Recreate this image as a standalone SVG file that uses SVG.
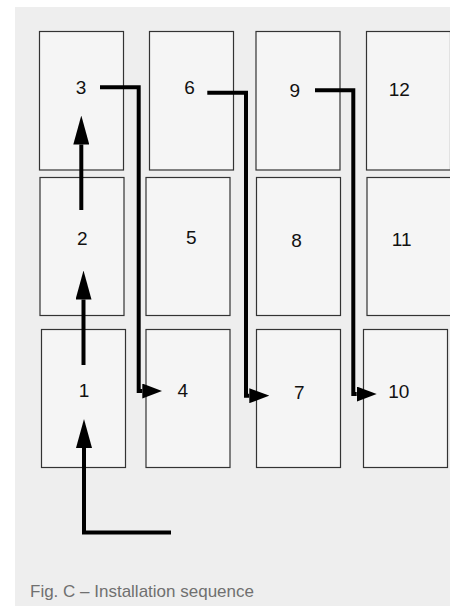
<svg xmlns="http://www.w3.org/2000/svg" width="450" height="606" viewBox="0 0 450 606">
  <style>
    .box { fill: #f5f5f5; stroke: #333333; stroke-width: 1.2; }
    .num { font-family: "Liberation Sans", Arial, sans-serif; font-size: 19px; fill: #111111; text-anchor: middle; }
    .conn { fill: none; stroke: #000000; stroke-width: 4; stroke-linejoin: miter; stroke-linecap: butt; }
    .cap { font-family: "Liberation Sans", Arial, sans-serif; font-size: 17px; fill: #707070; }
  </style>
  <defs>
    <marker id="arrowLong" markerUnits="userSpaceOnUse" markerWidth="29" markerHeight="16" viewBox="0 0 29 16" refX="0" refY="8" orient="auto">
      <path d="M0,0 L29,8 L0,16 z" fill="#000000"/>
    </marker>
    <marker id="arrowShort" markerUnits="userSpaceOnUse" markerWidth="20" markerHeight="15" viewBox="0 0 20 15" refX="0" refY="7.5" orient="auto">
      <path d="M0,0 L20,7.5 L0,15 z" fill="#000000"/>
    </marker>
  </defs>

  <rect x="15" y="7" width="435" height="599" fill="#eeeeee"/>

  <g id="node-3"><rect class="box" x="39.5" y="31.5" width="84" height="138.5"/><text class="num" x="81" y="94">3</text></g>
  <g id="node-6"><rect class="box" x="149.5" y="31.5" width="84" height="138.5"/><text class="num" x="189.5" y="94">6</text></g>
  <g id="node-9"><rect class="box" x="256" y="31.5" width="84" height="138.5"/><text class="num" x="294.7" y="96.5">9</text></g>
  <g id="node-12"><rect class="box" x="366.5" y="31.5" width="84" height="138.5"/><text class="num" x="399.3" y="95.5">12</text></g>

  <g id="node-2"><rect class="box" x="40" y="177.5" width="84" height="138"/><text class="num" x="82.2" y="245">2</text></g>
  <g id="node-5"><rect class="box" x="146" y="177.5" width="84" height="138"/><text class="num" x="191.2" y="244">5</text></g>
  <g id="node-8"><rect class="box" x="256.5" y="177.5" width="84" height="138"/><text class="num" x="296.5" y="247">8</text></g>
  <g id="node-11"><rect class="box" x="367" y="177.5" width="84" height="138"/><text class="num" x="401.7" y="245.5">11</text></g>

  <g id="node-1"><rect class="box" x="41.5" y="329.5" width="84" height="138"/><text class="num" x="84" y="397">1</text></g>
  <g id="node-4"><rect class="box" x="146" y="329.5" width="84" height="138"/><text class="num" x="182.7" y="397">4</text></g>
  <g id="node-7"><rect class="box" x="256.5" y="329.5" width="84" height="138"/><text class="num" x="299.2" y="399">7</text></g>
  <g id="node-10"><rect class="box" x="363.5" y="329.5" width="84" height="138"/><text class="num" x="398.8" y="398">10</text></g>

  <g id="connectors">
    <path class="conn" d="M171,532.5 H84 V448" marker-end="url(#arrowLong)"/>
    <path class="conn" d="M83.5,365 V299.5" marker-end="url(#arrowLong)"/>
    <path class="conn" d="M81.3,210 V144.5" marker-end="url(#arrowLong)"/>
    <path class="conn" d="M100,87.3 H138.7 V391 H142.3" marker-end="url(#arrowShort)"/>
    <path class="conn" d="M207.3,92.7 H246 V395.7 H249.3" marker-end="url(#arrowShort)"/>
    <path class="conn" d="M315,90.3 H353.3 V394 H356.7" marker-end="url(#arrowShort)"/>
  </g>

  <text class="cap" x="30" y="596.5">Fig. C – Installation sequence</text>
</svg>
